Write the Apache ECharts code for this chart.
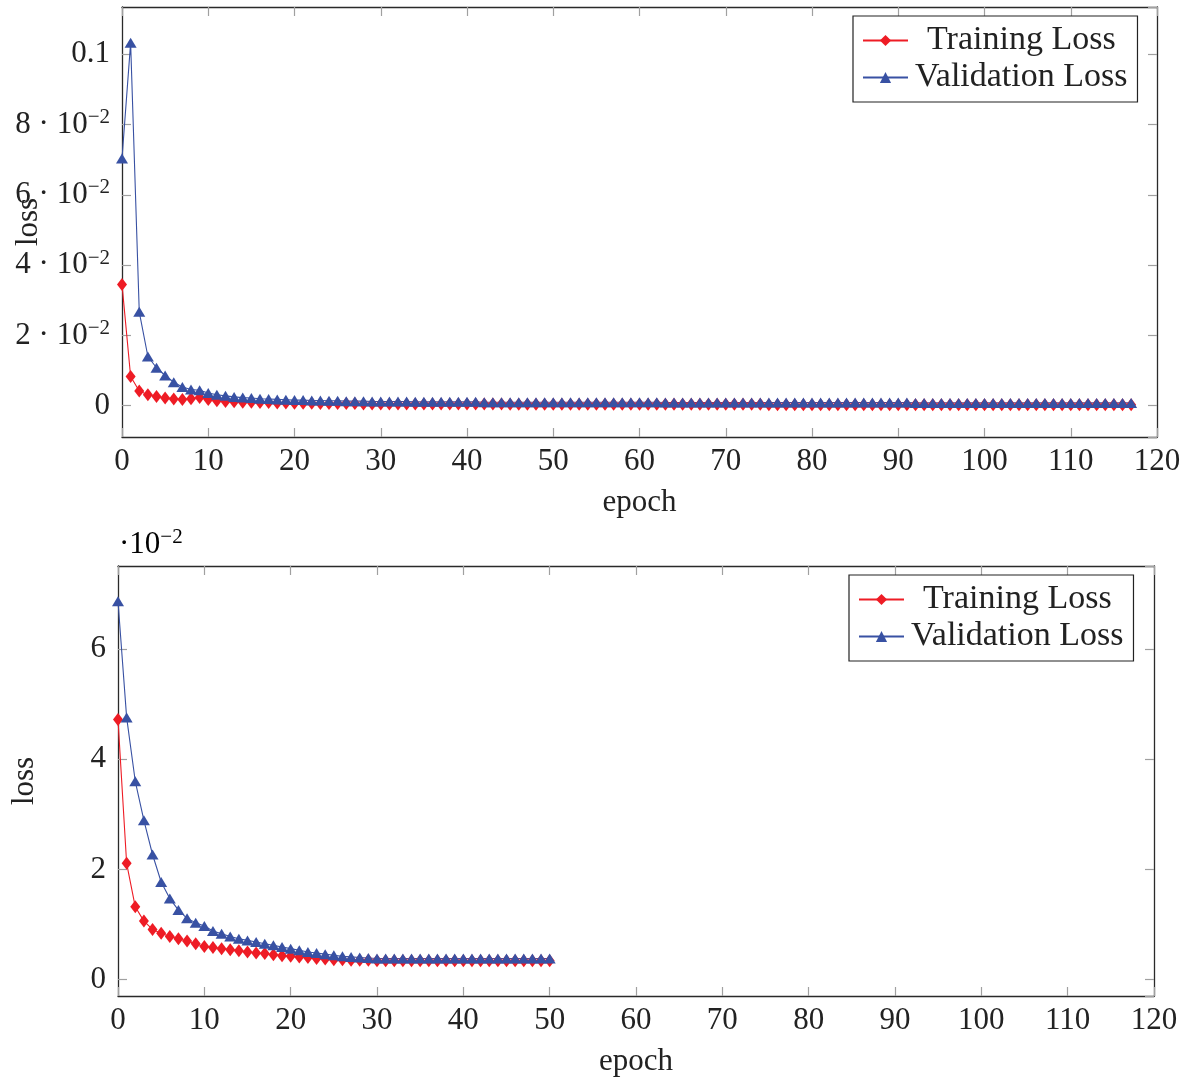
<!DOCTYPE html>
<html><head><meta charset="utf-8">
<script src="https://cdn.jsdelivr.net/npm/echarts@6/dist/echarts.min.js"></script>
<style>html,body{margin:0;padding:0;background:#fff}#c{width:1190px;height:1079px}</style>
</head><body><div id="c"></div>
<script>
// ---- Top chart (epochs 0..117), raw loss values ----
const trainLossTop = [
  0.0345,0.0083,0.0042,0.0031,0.0026,0.0022,0.0019,0.0018,0.0020,0.0023,
  0.0018,0.0014,0.0012,0.0011,0.0010,0.0010,0.0009,0.0009,0.0008,0.0008,
  0.0007,0.0007,0.0007,0.0006,0.0006,0.0006,0.0006,0.0006,0.0005,0.0005,
  0.0005,0.0005,0.0005,0.0005,0.0005,0.0005,0.0005,0.0005,0.0005,0.0005,
  0.0005,0.0005,0.0005,0.0005,0.0005,0.0004,0.0004,0.0004,0.0004,0.0004,
  0.0004,0.0004,0.0004,0.0004,0.0004,0.0004,0.0004,0.0004,0.0004,0.0004,
  0.0004,0.0004,0.0004,0.0004,0.0004,0.0004,0.0004,0.0004,0.0004,0.0004,
  0.0004,0.0004,0.0004,0.0004,0.0004,0.0003,0.0003,0.0003,0.0003,0.0003,
  0.0003,0.0003,0.0003,0.0003,0.0003,0.0003,0.0003,0.0003,0.0003,0.0003,
  0.0003,0.0003,0.0003,0.0003,0.0003,0.0003,0.0003,0.0003,0.0003,0.0003,
  0.0003,0.0003,0.0003,0.0003,0.0003,0.0003,0.0003,0.0003,0.0003,0.0003,
  0.0003,0.0003,0.0003,0.0003,0.0003,0.0003,0.0003,0.0003
];
const valLossTop = [
  0.0703,0.1032,0.0267,0.0140,0.0108,0.0086,0.0067,0.0053,0.0046,0.0044,
  0.0036,0.0031,0.0028,0.0025,0.0023,0.0022,0.0020,0.0019,0.0018,0.0017,
  0.0016,0.0016,0.0015,0.0015,0.0014,0.0014,0.0013,0.0013,0.0013,0.0012,
  0.0012,0.0012,0.0012,0.0012,0.0011,0.0011,0.0011,0.0011,0.0011,0.0011,
  0.0011,0.0011,0.0010,0.0010,0.0010,0.0010,0.0010,0.0010,0.0010,0.0010,
  0.0010,0.0010,0.0010,0.0010,0.0010,0.0010,0.0010,0.0010,0.0010,0.0010,
  0.0010,0.0010,0.0010,0.0009,0.0009,0.0009,0.0009,0.0009,0.0009,0.0009,
  0.0009,0.0009,0.0009,0.0009,0.0009,0.0009,0.0009,0.0009,0.0009,0.0009,
  0.0009,0.0009,0.0009,0.0009,0.0009,0.0009,0.0009,0.0009,0.0009,0.0009,
  0.0009,0.0009,0.0008,0.0008,0.0008,0.0008,0.0008,0.0008,0.0008,0.0008,
  0.0008,0.0008,0.0008,0.0008,0.0008,0.0008,0.0008,0.0008,0.0008,0.0008,
  0.0008,0.0008,0.0008,0.0008,0.0008,0.0008,0.0008,0.0008
];
// ---- Bottom chart (epochs 0..50), values in units of 10^-2 ----
const trainLossBottom = [
  4.72,2.11,1.32,1.06,0.91,0.84,0.78,0.74,0.70,0.65,
  0.60,0.58,0.56,0.54,0.52,0.50,0.48,0.47,0.45,0.43,
  0.42,0.41,0.40,0.38,0.37,0.36,0.36,0.35,0.35,0.35,
  0.34,0.34,0.34,0.34,0.34,0.34,0.34,0.34,0.34,0.34,
  0.34,0.34,0.34,0.34,0.34,0.34,0.34,0.34,0.34,0.34,
  0.34
];
const valLossBottom = [
  6.87,4.76,3.60,2.89,2.27,1.77,1.47,1.26,1.11,1.03,
  0.97,0.88,0.83,0.78,0.74,0.71,0.68,0.65,0.62,0.59,
  0.56,0.53,0.50,0.48,0.46,0.44,0.42,0.41,0.40,0.39,
  0.38,0.38,0.38,0.38,0.38,0.38,0.38,0.38,0.38,0.38,
  0.38,0.38,0.38,0.38,0.38,0.38,0.38,0.38,0.38,0.38,
  0.38
];
const xTicks = [0,10,20,30,40,50,60,70,80,90,100,110,120];
const seriesNames = ['Training Loss','Validation Loss'];

const FONT = 'Liberation Serif';
const RED = '#ee1c25', BLUE = '#3851a3';
const FRAME = '#2a2a2a', TICK = '#a0a0a0';

const toPairs = arr => arr.map((v, i) => [i, v]);

function isMultiple(v, step) {
  const r = v / step;
  return Math.abs(r - Math.round(r)) < 1e-6;
}

const richStyle = {
  b: { fontFamily: FONT, fontSize: 31, color: '#222' },
  s: { fontFamily: FONT, fontSize: 21, color: '#222', verticalAlign: 'top', padding: [0,0,14,0] }
};

function topYLabel(v) {
  if (!isMultiple(v, 0.02)) return '';
  if (Math.abs(v) < 1e-9) return '0';
  if (Math.abs(v - 0.1) < 1e-9) return '0.1';
  return '{b|' + Math.round(v * 100) + ' · 10}{s|−2}';
}
function bottomYLabel(v) {
  if (!isMultiple(v, 2)) return '';
  return String(Math.round(v));
}
function xLabel(v) { return xTicks.indexOf(v) >= 0 ? String(v) : ''; }

const baseAxisLine = { show: true, onZero: false, lineStyle: { color: FRAME, width: 1.3 } };
const baseTick = { show: true, inside: true, length: 9, lineStyle: { color: TICK, width: 1.2 } };

function mainX(gridIndex) {
  return {
    type: 'value', gridIndex, min: 0, max: 120, interval: 10, position: 'bottom',
    axisLine: baseAxisLine, axisTick: baseTick, splitLine: { show: false },
    axisLabel: { formatter: xLabel, fontFamily: FONT, fontSize: 31, color: '#222', margin: 9 },
    name: 'epoch', nameLocation: 'middle', nameGap: 50, nameMoveOverlap: false,
    nameTextStyle: { fontFamily: FONT, fontSize: 31, color: '#222' }
  };
}
function mirrorX(gridIndex) {
  return {
    type: 'value', gridIndex, min: 0, max: 120, interval: 10, position: 'top',
    axisLine: baseAxisLine, axisTick: baseTick, splitLine: { show: false },
    axisLabel: { show: false }
  };
}
function mainY(gridIndex, min, max, splitNumber, formatter) {
  return {
    type: 'value', gridIndex, min, max, splitNumber, position: 'left',
    axisLine: baseAxisLine, axisTick: baseTick, splitLine: { show: false },
    axisLabel: { formatter, fontFamily: FONT, fontSize: 31, color: '#222', margin: 12,
                 showMinLabel: false, showMaxLabel: false, rich: richStyle },
    name: 'loss', nameLocation: 'middle', nameGap: 78, nameRotate: 90, nameMoveOverlap: false,
    nameTextStyle: { fontFamily: FONT, fontSize: 31, color: '#222' }
  };
}
function mirrorY(gridIndex, min, max, splitNumber) {
  return {
    type: 'value', gridIndex, min, max, splitNumber, position: 'right',
    axisLine: baseAxisLine, axisTick: baseTick, splitLine: { show: false },
    axisLabel: { show: false }
  };
}

function lineSeries(name, data, xi, yi) {
  const isTrain = name === seriesNames[0];
  return {
    type: 'line', name, data, xAxisIndex: xi, yAxisIndex: yi,
    symbol: isTrain ? 'diamond' : 'triangle',
    symbolSize: isTrain ? [10, 13] : [12, 10],
    showAllSymbol: true,
    color: isTrain ? RED : BLUE,
    itemStyle: { color: isTrain ? RED : BLUE },
    lineStyle: { color: isTrain ? RED : BLUE, width: 1.1 },
    animation: false
  };
}

function legendAt(left, top) {
  return {
    orient: 'vertical', left, top,
    data: [
      { name: seriesNames[0], textStyle: { padding: [0, 0, 0, 14] } },
      { name: seriesNames[1] }
    ],
    itemWidth: 45, itemHeight: 14, itemGap: 2,
    padding: [7, 10, 7, 9],
    borderColor: '#222', borderWidth: 1.2, borderRadius: 0, backgroundColor: '#fff',
    textStyle: { fontFamily: FONT, fontSize: 34, color: '#222', lineHeight: 35, padding: [0, 0, 0, 2] },
    selectedMode: false
  };
}

const chart = echarts.init(document.getElementById('c'), null, { renderer: 'canvas' });
chart.setOption({
  animation: false,
  backgroundColor: '#fff',
  grid: [
    { left: 122, top: 7, width: 1035, height: 430, containLabel: false, outerBoundsMode: 'none' },
    { left: 118, top: 566, width: 1036, height: 430, containLabel: false, outerBoundsMode: 'none' }
  ],
  xAxis: [ mainX(0), mirrorX(0), mainX(1), mirrorX(1) ],
  yAxis: [
    mainY(0, -0.0089, 0.1134, 6, topYLabel),
    mirrorY(0, -0.0089, 0.1134, 6),
    mainY(1, -0.30, 7.51, 4, bottomYLabel),
    mirrorY(1, -0.30, 7.51, 4)
  ],
  legend: [ legendAt(853, 16), legendAt(849, 575) ],
  series: [
    lineSeries(seriesNames[0], toPairs(trainLossTop), 0, 0),
    lineSeries(seriesNames[1], toPairs(valLossTop), 0, 0),
    lineSeries(seriesNames[0], toPairs(trainLossBottom), 2, 2),
    lineSeries(seriesNames[1], toPairs(valLossBottom), 2, 2)
  ],
  graphic: [{
    type: 'text', left: 119, top: 527,
    style: { text: '{b|·10}{s|−2}', rich: richStyle }
  }]
});
</script>
</body></html>
